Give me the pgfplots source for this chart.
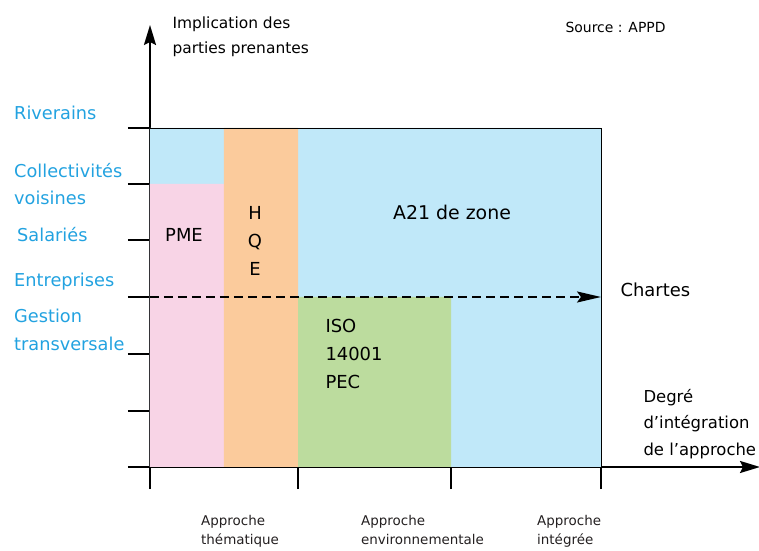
\documentclass[border=0pt]{standalone}
\usepackage{pgfplots}
\pgfplotsset{compat=1.18}
\usetikzlibrary{arrows.meta}
\usepackage{fontspec}
\setmainfont{DejaVu Sans}
\definecolor{cblue}{HTML}{C0E8F9}
\definecolor{cpink}{HTML}{F8D4E6}
\definecolor{corange}{HTML}{FBCB9C}
\definecolor{cgreen}{HTML}{BCDC9E}
\definecolor{lblue}{HTML}{22A2E0}
\definecolor{tgray}{HTML}{231F20}
\begin{document}
\begin{tikzpicture}
\begin{axis}[
  x=1bp, y=1bp,
  xmin=0, xmax=610, ymin=0, ymax=442,
  axis lines=left,
  axis line style={line width=2.2bp, black, -{Stealth[length=20bp,width=12bp,inset=3bp]}},
  xtick={0,148,301,451}, xticklabels={},
  ytick={0,56,113,170,227,283,339}, yticklabels={},
  tick align=outside,
  major tick length=22bp,
  tick style={line width=2.2bp, black},
  clip=false,
  every node/.style={text=tgray, inner sep=0pt},
]
% background rectangles
\addplot[fill=cblue, draw=none] coordinates {(0,0) (451,0) (451,339) (0,339) (0,0)};
\addplot[fill=cpink, draw=none] coordinates {(0,0) (74,0) (74,283) (0,283) (0,0)};
\addplot[fill=corange, draw=none] coordinates {(74,0) (148,0) (148,339) (74,339) (74,0)};
\addplot[fill=cgreen, draw=none] coordinates {(148,0) (301,0) (301,170) (148,170) (148,0)};
\addplot[black, line width=0.8bp] coordinates {(0,339) (451,339) (451,0)};
% dashed arrow
\addplot[black, line width=2bp, dash pattern=on 9bp off 5bp, -{Stealth[length=24bp,width=11bp,inset=4bp]}] coordinates {(0,170) (451,170)};
% left labels
\begin{scope}[every node/.style={text=lblue, inner sep=0pt, font=\fontsize{17.8}{27.5}\selectfont, anchor=west, align=left}]
\node at (axis cs:-136,354) {Riverains};
\node at (axis cs:-136,283) {Collectivités\\voisines};
\node at (axis cs:-133,232) {Salariés};
\node at (axis cs:-136,185) {Entreprises};
\node at (axis cs:-136,137) {Gestion\\transversale};
\end{scope}
% inner labels
\node[font=\fontsize{18}{28}\selectfont] at (axis cs:34,232) {PME};
\node[font=\fontsize{18}{28}\selectfont, align=center] at (axis cs:105,226) {H\\Q\\E};
\node[font=\fontsize{19}{28}\selectfont] at (axis cs:302,255) {A21 de zone};
\node[font=\fontsize{18}{28}\selectfont, align=left, anchor=west] at (axis cs:172,113) {ISO\\14001\\PEC};
\node[font=\fontsize{18}{26}\selectfont, anchor=west] at (axis cs:467,177) {Chartes};
\node[font=\fontsize{16.5}{26.5}\selectfont, align=left, anchor=west] at (axis cs:490,43) {Degré\\d’intégration\\de l’approche};
\node[font=\fontsize{15.5}{25}\selectfont, align=left, anchor=west] at (axis cs:19,430) {Implication des\\parties prenantes};
\node[font=\fontsize{14}{18}\selectfont, anchor=west] at (axis cs:412,440) {Source : APPD};
% bottom labels
\begin{scope}[every node/.style={text=tgray, inner sep=0pt, font=\fontsize{13.5}{19.5}\selectfont, anchor=north west, align=left}]
\node at (axis cs:51,-48) {Approche\\thématique};
\node at (axis cs:211,-48) {Approche\\environnementale};
\node at (axis cs:387,-48) {Approche\\intégrée};
\end{scope}
\coordinate (bl) at (axis cs:-150,-84);
\coordinate (tr) at (axis cs:609,467);
\end{axis}
\pgfresetboundingbox
\useasboundingbox (bl) rectangle (tr);
\end{tikzpicture}
\end{document}
